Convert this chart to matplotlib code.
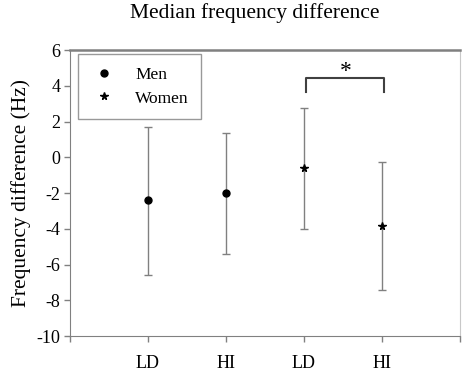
import matplotlib.pyplot as plt

groups = ['LD', 'HI', 'LD', 'HI']
men_median = [-2.4, -2.0]
men_upper = [1.7, 1.37]
men_lower = [-6.58, -5.4]
women_median = [-0.61, -3.82]
women_upper = [2.77, -0.28]
women_lower = [-3.99, -7.41]

plt.rcParams['font.family'] = ['Liberation Serif', 'DejaVu Serif']
plt.rcParams['axes.unicode_minus'] = False

fig = plt.figure(figsize=(4.62, 3.71), dpi=100)
ax = fig.add_axes([0.1515, 0.0943, 0.8442, 0.7709])

grey = '#808080'
men_x = [1, 2]
women_x = [3, 4]

ax.errorbar(men_x, men_median,
            yerr=[[m - l for m, l in zip(men_median, men_lower)],
                  [u - m for m, u in zip(men_median, men_upper)]],
            fmt='none', ecolor=grey, elinewidth=1, capsize=3, capthick=1)
ax.errorbar(women_x, women_median,
            yerr=[[m - l for m, l in zip(women_median, women_lower)],
                  [u - m for m, u in zip(women_median, women_upper)]],
            fmt='none', ecolor=grey, elinewidth=1, capsize=3, capthick=1)
ax.plot(men_x, men_median, 'o', color='black', markersize=5, ls='none',
        label='Men', zorder=3)
ax.plot(women_x, women_median, '*', color='black', markersize=5.5, ls='none',
        label='Women', zorder=3)

# significance bracket
ax.plot([3.02, 3.02, 4.02, 4.02], [3.63, 4.45, 4.45, 3.63],
        color='#404040', lw=1.5)
ax.text(3.53, 4.5, '*', ha='center', va='baseline', fontsize=17)

ax.set_xlim(0, 5)
ax.set_ylim(-10, 6)
ax.set_yticks(range(-10, 7, 2))
ax.set_xticks([0, 1, 2, 3, 4, 5])
ax.set_xticklabels([''] + groups + [''])
ax.tick_params(axis='both', colors=grey, labelcolor='black', labelsize=13,
               length=4, width=1)
ax.tick_params(axis='x', pad=10)
ax.tick_params(axis='y', pad=3)
for s in ax.spines.values():
    s.set_color(grey)
ax.spines['top'].set_linewidth(1.8)
ax.spines['right'].set_color('#c8c8c8')

ax.set_ylabel('Frequency difference (Hz)', fontsize=15.5, labelpad=4)
fig.text(0.552, 0.965, 'Median frequency difference', fontsize=15.5,
         ha='center', va='center')

leg = ax.legend(loc='upper left', bbox_to_anchor=(0.02, 0.985), fontsize=12.5,
                frameon=True, fancybox=False, edgecolor=grey,
                borderaxespad=0, handletextpad=1.0, borderpad=0.7,
                labelspacing=0.45, handlelength=1.6)
leg.get_frame().set_linewidth(1)

plt.savefig('out.png', dpi=100)
